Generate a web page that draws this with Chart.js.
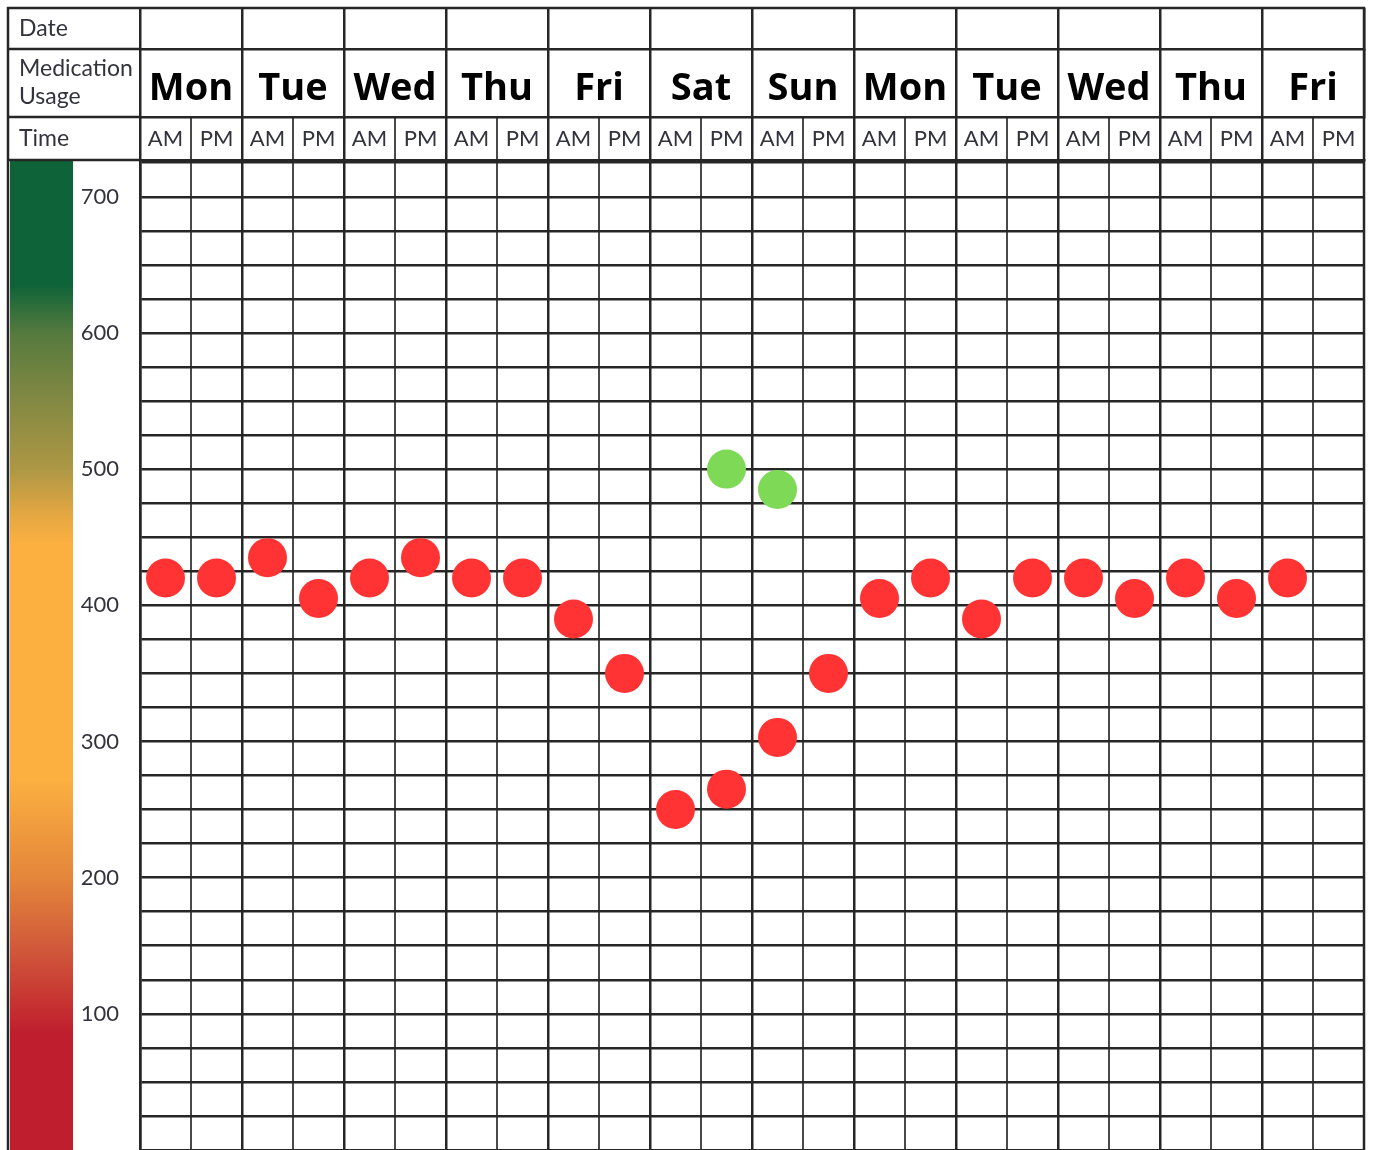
<!DOCTYPE html>
<html>
<head>
<meta charset="utf-8">
<title>Peak flow chart</title>
<script src="https://cdn.jsdelivr.net/npm/chart.js@4.4.1/dist/chart.umd.min.js"></script>
<style>
	html, body { margin: 0; padding: 0; background: #fff; overflow: hidden; }
	#wrap { width: 1373px; height: 1150px; position: relative; }
</style>
</head>
<body>
<div id="wrap"><canvas id="chart"></canvas></div>
<script>
// data
const days = ['Mon', 'Tue', 'Wed', 'Thu', 'Fri', 'Sat', 'Sun', 'Mon', 'Tue', 'Wed', 'Thu', 'Fri'];
const times = days.flatMap(() => ['AM', 'PM']);
const yTicks = [100, 200, 300, 400, 500, 600, 700];

const redValues = [420, 420, 435, 405, 420, 435, 420, 420, 390, 350, 250, 265,
	303, 350, 405, 420, 390, 420, 420, 405, 420, 405, 420, null];
const greenValues = [null, null, null, null, null, null, null, null, null, null, null, 500,
	485, null, null, null, null, null, null, null, null, null, null, null];

// colour band beside the y labels, stops as [value, colour]
const bandStops = [
	[727, '#0f6338'], [635, '#0f6338'], [600, '#557a3e'], [560, '#7a8642'],
	[500, '#ad9744'], [465, '#e6a842'], [445, '#fbb040'], [272, '#fbb040'],
	[200, '#e4863b'], [147, '#d0583a'], [100, '#c42b30'], [85, '#be1e2d'], [0, '#be1e2d']
];

const LINE = '#262626';
const TEXT = '#33333d';
const rowH = { date: 41, day: 68, time: 43 };

const fixHeight = h => scale => { scale.height = h; };

// frame, left column and colour band
const tablePlugin = {
	id: 'table',
	beforeDraw(chart) {
		const { ctx, chartArea, scales } = chart;
		const y = scales.y;
		const grad = ctx.createLinearGradient(0, chartArea.top, 0, chartArea.bottom);
		bandStops.forEach(([v, c]) => {
			const p = (y.getPixelForValue(v) - chartArea.top) / (chartArea.bottom - chartArea.top);
			grad.addColorStop(Math.min(1, Math.max(0, p)), c);
		});
		ctx.save();
		ctx.fillStyle = grad;
		ctx.fillRect(y.left + 2, chartArea.top, 63, chartArea.bottom - chartArea.top);
		ctx.restore();
	},
	afterDraw(chart) {
		const { ctx, chartArea, scales } = chart;
		const left = scales.y.left;
		const top = scales.xDate.top;
		const right = chartArea.right;
		const bottom = chart.height;
		ctx.save();
		ctx.strokeStyle = LINE;
		ctx.lineWidth = 2.5;
		ctx.beginPath();
		ctx.moveTo(left, bottom);
		ctx.lineTo(left, top);
		ctx.lineTo(right, top);
		ctx.lineTo(right, bottom);
		[scales.xDate.bottom, scales.xDay.bottom, scales.xTime.bottom].forEach(yy => {
			ctx.moveTo(left, yy);
			ctx.lineTo(chartArea.left, yy);
		});
		ctx.stroke();

		ctx.fillStyle = TEXT;
		ctx.font = '23px Lato';
		ctx.textBaseline = 'middle';
		ctx.textAlign = 'left';
		const x = left + 11;
		ctx.fillText('Date', x, (scales.xDate.top + scales.xDate.bottom) / 2);
		ctx.fillText('Medication', x, scales.xDay.top + 20);
		ctx.fillText('Usage', x, scales.xDay.top + 48);
		ctx.fillText('Time', x, (scales.xTime.top + scales.xTime.bottom) / 2);
		ctx.restore();
	}
};

new Chart(document.getElementById('chart'), {
	type: 'line',
	data: {
		labels: times,
		datasets: [{
			label: 'Reading',
			data: redValues,
			xAxisID: 'xTime',
			showLine: false,
			pointRadius: 19.5,
			pointHoverRadius: 19.5,
			pointBorderWidth: 0,
			backgroundColor: '#ff3333',
			borderColor: '#ff3333'
		}, {
			label: 'After medication',
			data: greenValues,
			xAxisID: 'xTime',
			showLine: false,
			pointRadius: 19.5,
			pointHoverRadius: 19.5,
			pointBorderWidth: 0,
			backgroundColor: '#7ed957',
			borderColor: '#7ed957'
		}]
	},
	plugins: [tablePlugin],
	options: {
		responsive: true,
		maintainAspectRatio: false,
		animation: false,
		layout: { autoPadding: false, padding: { left: 8, top: 8, right: 9, bottom: 0 } },
		plugins: {
			legend: { display: false },
			tooltip: { enabled: false }
		},
		scales: {
			xDate: {
				type: 'category',
				labels: days,
				position: 'top',
				weight: 3,
				offset: true,
				afterFit: fixHeight(rowH.date),
				grid: {
					offset: true,
					drawOnChartArea: false,
					tickLength: rowH.date,
					color: LINE,
					lineWidth: 2.5
				},
				border: { color: LINE, width: 2.5 },
				ticks: { display: false }
			},
			xDay: {
				type: 'category',
				labels: days,
				position: 'top',
				weight: 2,
				offset: true,
				afterFit: fixHeight(rowH.day),
				grid: {
					offset: true,
					drawOnChartArea: false,
					tickLength: rowH.day,
					color: LINE,
					lineWidth: 2.5
				},
				border: { color: LINE, width: 2.5 },
				ticks: {
					autoSkip: false,
					maxRotation: 0,
					padding: 28 - rowH.day - 22.8,
					color: '#000',
					font: { family: 'Open Sans', size: 38, weight: 'bold' }
				}
			},
			xTime: {
				type: 'category',
				position: 'top',
				weight: 1,
				offset: true,
				afterFit: fixHeight(rowH.time),
				grid: {
					offset: true,
					tickLength: rowH.time,
					color: c => (c.index % 2 === 0 ? LINE : '#4a4a4a'),
					lineWidth: c => (c.index % 2 === 0 ? 2.5 : 2)
				},
				border: { color: LINE, width: 2.5 },
				ticks: {
					autoSkip: false,
					maxRotation: 0,
					padding: 21 - rowH.time - 13.2,
					color: TEXT,
					font: { family: 'Lato', size: 22 }
				}
			},
			y: {
				type: 'linear',
				min: 0,
				max: 727,
				afterFit: scale => {
					scale.width = 132;
					scale.paddingTop = 0;
					scale.paddingBottom = 0;
				},
				grid: {
					drawTicks: false,
					color: LINE,
					lineWidth: 2.5
				},
				border: { color: LINE, width: 2.5 },
				ticks: {
					stepSize: 25,
					includeBounds: false,
					autoSkip: false,
					padding: 21,
					color: TEXT,
					font: { family: 'Lato', size: 22 },
					callback: v => (yTicks.includes(v) ? String(v) : '')
				}
			}
		}
	}
});
</script>
</body>
</html>
